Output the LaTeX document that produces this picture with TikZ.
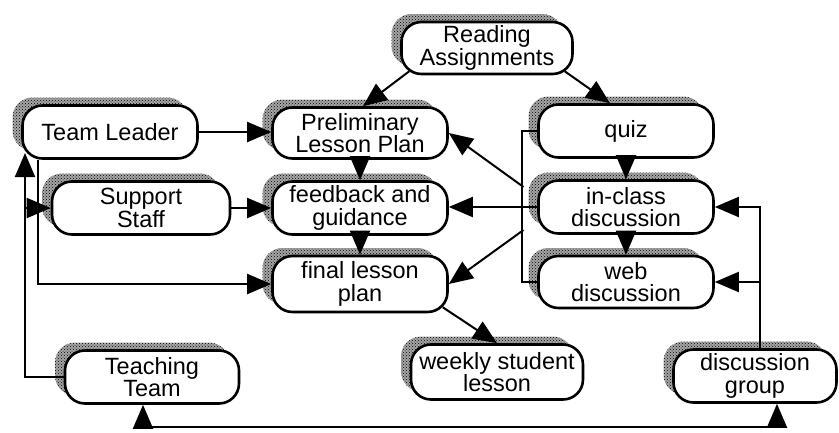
\documentclass[tikz,border=0pt]{standalone}
\usepackage{fontspec}
\setmainfont{Liberation Sans}
\usetikzlibrary{arrows.meta,shadows,patterns,calc}
\begin{document}
\begin{tikzpicture}[x=1pt,y=-1pt,
  box/.style={draw, line width=2.6pt, rounded corners=20pt, fill=white,
    minimum width=175pt, minimum height=53pt, align=center, inner sep=2pt,
    font=\fontsize{23.5}{22.5}\selectfont,
    general shadow={fill=black!35, shadow xshift=-10pt, shadow yshift=8pt},
    general shadow={pattern=crosshatch dots, pattern color=black,
      shadow xshift=-10pt, shadow yshift=8pt}},
  conn/.style={line width=2pt, -{Triangle[length=24pt,width=20pt]}},
  both/.style={line width=2pt, {Triangle[length=24pt,width=20pt]}-{Triangle[length=24pt,width=20pt]}},
  plain/.style={line width=2pt}]
\useasboundingbox (0,0) rectangle (839,432);
% nodes
\node[box, minimum width=171pt, minimum height=52pt] (RA) at (487,48) {Reading\\Assignments};
\node[box, minimum height=51pt] (PLP) at (360,133) {Preliminary\\Lesson Plan};
\node[box] (FG) at (360,208) {feedback and\\guidance};
\node[box, minimum height=56pt] (FLP) at (360,284) {final lesson\\plan};
\node[box] (TL) at (110,132) {Team Leader};
\node[box, minimum width=178pt] (SS) at (141,208) {Support\\Staff};
\node[box] (QZ) at (626,131) {quiz};
\node[box] (IC) at (626,207) {in-class\\discussion};
\node[box, minimum height=52pt] (WD) at (626,282) {web\\discussion};
\node[box, minimum width=174pt] (TT) at (152,377) {Teaching\\Team};
\node[box, minimum width=172pt, minimum height=55pt] (WSL) at (497,372) {weekly student\\lesson};
\node[box, minimum width=163pt] (DG) at (755,376) {discussion\\group};
% helper coordinates
\coordinate (lv) at (25,153);
\coordinate (lvb) at (25,208);
\coordinate (bu) at (523.5,187);
\coordinate (bl) at (523.5,230);
\coordinate (dgv) at ([xshift=5pt]DG.north);
% connectors
\draw[conn] (TL.east) -- (PLP.west |- TL.east);
\draw[conn] (SS.east) -- (FG.west |- SS.east);
\draw[conn] ([xshift=17pt]TL.south west) |- (FLP.west);
\draw[conn] (TT.west) -| (lv);
\draw[conn] (lvb) -- (SS.west);
\draw[conn] ($(RA.south west)+(9,-4)$) -- ([xshift=3pt]PLP.north);
\draw[conn] ($(RA.south east)+(-9,-4)$) -- ([xshift=-16pt]QZ.north);
\draw[conn] (PLP.south) -- (FG.north);
\draw[conn] (FG.south) -- (FLP.north);
\draw[conn] (QZ.south) -- (IC.north);
\draw[conn] (IC.south) -- (WD.north);
\draw[conn] ($(FLP.south east)+(-6,-6)$) -- (WSL.north);
\draw[plain] (QZ.west) -- ++(-15,0) |- (WD.west);
\draw[conn] (IC.west) -- (FG.east |- IC.west);
\draw[conn] (bu) -- (PLP.east);
\draw[conn] (bl) -- (FLP.east);
\draw[conn] (dgv) |- (IC.east);
\draw[conn] (dgv |- WD.east) -- (WD.east);
\draw[both] ([xshift=-9pt]TT.south) -- ++(0,22) -| ([xshift=22pt]DG.south);
\end{tikzpicture}
\end{document}
